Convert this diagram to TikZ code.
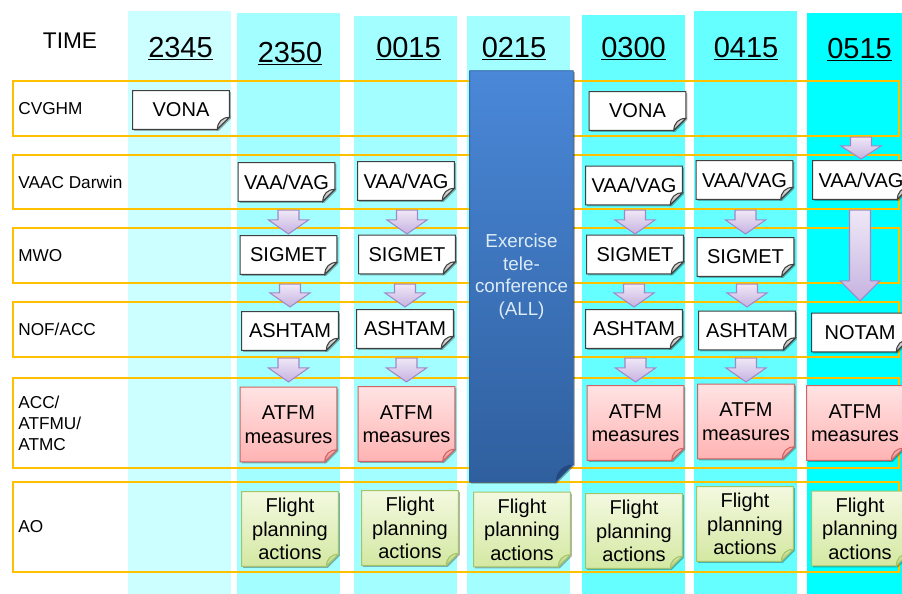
\documentclass[tikz,border=0pt]{standalone}
\usepackage{fontspec}
\setmainfont{Liberation Sans}
\usepackage{xcolor}
\usetikzlibrary{calc,shadows}
\definecolor{colA}{HTML}{CCFFFF}
\definecolor{colB}{HTML}{A3FFFF}
\definecolor{colC}{HTML}{66FFFF}
\definecolor{colD}{HTML}{00FFFF}
\definecolor{frameorange}{HTML}{FFC000}
\definecolor{noteLine}{HTML}{404040}
\definecolor{telTop}{HTML}{4A88D8}
\definecolor{telBot}{HTML}{2F5F9E}
\definecolor{telFlap}{HTML}{24487E}
\definecolor{telText}{HTML}{DDEBF7}
\definecolor{atfmTop}{HTML}{FFE3E3}
\definecolor{atfmBot}{HTML}{FFB3B3}
\definecolor{atfmLine}{HTML}{D06464}
\definecolor{fpaTop}{HTML}{F3F9E0}
\definecolor{fpaBot}{HTML}{D4E8A2}
\definecolor{fpaLine}{HTML}{A5C46A}
\definecolor{arrTop}{HTML}{EFE8F7}
\definecolor{arrBot}{HTML}{C6B2E0}
\definecolor{arrLine}{HTML}{A088C8}
\pgfdeclarelayer{back}
\pgfdeclarelayer{frames}
\pgfdeclarelayer{notes}
\pgfsetlayers{back,frames,notes,main}
\newcommand{\foldnote}[4][0.24cm]{%
  \begin{pgfonlayer}{notes}
    \path[#3] (#2.north west) -- (#2.north east) -- ($(#2.south east)+(0,#1)$)
      -- ($(#2.south east)+(-#1,0)$) -- (#2.south west) -- cycle;
    \path[#4] ($(#2.south east)+(0,#1)$) .. controls ($(#2.south east)+(-0.6*#1,#1)$)
      and ($(#2.south east)+(-#1,0.6*#1)$) .. ($(#2.south east)+(-#1,0)$) -- cycle;
  \end{pgfonlayer}}
\newcommand{\blockarrow}[3][0.28cm]{%
  \path[blockarr] let \p1=#2, \p2=#3 in
    (\x2-0.21cm,\y1) -- (\x2+0.21cm,\y1) -- (\x2+0.21cm,\y2+#1) -- (\x2+0.4cm,\y2+#1)
    -- (\x2,\y2) -- (\x2-0.4cm,\y2+#1) -- (\x2-0.21cm,\y2+#1) -- cycle;}

\begin{document}
\begin{tikzpicture}[x=0.02cm,y=-0.02cm]
  \tikzset{
    hdr/.style={font=\fontsize{16.5}{20}\selectfont,inner sep=0pt,anchor=base},
    rowframe/.style={draw=frameorange,line width=1.2pt,inner sep=0pt,minimum width=17.72cm},
    rowlab/.style={font=\fontsize{9.8}{11.9}\selectfont,align=left,anchor=west,inner sep=0pt},
    note/.style={font=\fontsize{11.4}{13.4}\selectfont,align=center,inner sep=0pt,
                 minimum width=1.92cm,minimum height=0.76cm},
    tall/.style={note,minimum height=1.48cm},
    telbox/.style={font=\fontsize{10.7}{12.9}\selectfont,text=telText,align=center,inner sep=0pt,
                   minimum width=2.06cm,minimum height=8.22cm},
    shade/.style={drop shadow={shadow xshift=0.8pt,shadow yshift=-0.8pt,opacity=0.3,fill=black}},
    plainbody/.style={shade,fill=white,draw=noteLine,line width=0.6pt},
    plainflap/.style={top color=gray!25,bottom color=gray!60,draw=noteLine,line width=0.6pt},
    atfmbody/.style={shade,top color=atfmTop,bottom color=atfmBot,draw=atfmLine,line width=0.6pt},
    atfmflap/.style={top color=atfmBot,bottom color=atfmLine!70,draw=atfmLine,line width=0.6pt},
    fpabody/.style={shade,top color=fpaTop,bottom color=fpaBot,draw=fpaLine,line width=0.6pt},
    fpaflap/.style={top color=fpaBot,bottom color=fpaLine!80,draw=fpaLine,line width=0.6pt},
    telbody/.style={shade,top color=telTop,bottom color=telBot,draw=telBot,line width=0.4pt},
    telflap/.style={fill=telFlap,draw=telBot,line width=0.4pt},
    blockarr/.style={top color=arrTop,bottom color=arrBot,draw=arrLine,line width=0.6pt}}
  \path[use as bounding box] (0,0) rectangle (902,593);
  \begin{pgfonlayer}{back}
    \foreach \xl/\yt/\c in {128/11/colA,237/13/colB,354/16/colB,467/16/colB,582/15/colC,
       694/11/colC,807/13/colD}
      \fill[\c] (\xl,\yt) rectangle ++(103,600);
  \end{pgfonlayer}
  \node[font=\fontsize{12.9}{15}\selectfont,inner sep=0pt,anchor=base] (time) at (70,48) {TIME};
  \foreach \x/\y/\t [count=\i] in {180.5/57/2345,290/62/2350,408.5/57/0015,514/57/0215,
     633.5/57/0300,746/57/0415,859.5/58/0515}
    \node[hdr] (h\i) at (\x,\y) {\underline{\t}};
  \begin{pgfonlayer}{frames}
    \foreach \nm/\yc/\h/\lab in {cvghm/108.5/1.1/CVGHM,vaac/182/1.08/VAAC Darwin,mwo/255.5/1.1/MWO,
       nof/329.5/1.1/{NOF/ACC},acc/423/1.8/{ACC/\\ATFMU/\\ATMC},ao/527/1.8/AO}{
      \node[rowframe,minimum height=\h cm] (\nm) at (456,\yc) {};
      \node[rowlab] (\nm-lab) at ($(\nm.west)+(6,0)$) {\lab};}
  \end{pgfonlayer}
  \node[telbox] (telcon) at (521.5,276.5) {Exercise\\tele-\\conference\\(ALL)};
  \foreach \n/\x/\y in {vona1/181/110,vona5/637.5/111}
    \node[note] (\n) at (\x,\y) {VONA};
  \foreach \n/\x/\y in {vaa2/286.5/182,vaa3/406/181,vaa5/634/185.5,vaa6/744.5/180,vaa7/861/180}
    \node[note] (\n) at (\x,\y) {VAA/VAG};
  \foreach \n/\x/\y in {sig2/288.5/255,sig3/407/254.5,sig5/635/254.5,sig6/745.5/257}
    \node[note] (\n) at (\x,\y) {SIGMET};
  \foreach \n/\x/\y in {ash2/290/331,ash3/405/329,ash5/634/329,ash6/747/330.5}
    \node[note] (\n) at (\x,\y) {ASHTAM};
  \node[note] (notam7) at (860,332.5) {NOTAM};
  \foreach \n/\x/\y in {atfm2/288.5/424.5,atfm3/406.5/424,atfm5/635.5/423,atfm6/746/421.5,atfm7/855/423}
    \node[tall] (\n) at (\x,\y) {ATFM\\measures};
  \foreach \n/\x/\y in {fpa2/290/529,fpa3/410/528,fpa4/522/529.5,fpa5/634/531,fpa6/745/524,fpa7/860/528.5}
    \node[tall] (\n) at (\x,\y) {Flight\\planning\\actions};
  \foreach \n in {vona1,vona5,vaa2,vaa3,vaa5,vaa6,vaa7,sig2,sig3,sig5,sig6,ash2,ash3,ash5,ash6,notam7}
    \foldnote{\n}{plainbody}{plainflap};
  \foreach \n in {atfm2,atfm3,atfm5,atfm6,atfm7}
    \foldnote{\n}{atfmbody}{atfmflap};
  \foreach \n in {fpa2,fpa3,fpa4,fpa5,fpa6,fpa7}
    \foldnote{\n}{fpabody}{fpaflap};
  \foldnote[0.36cm]{telcon}{telbody}{telflap};
  \foreach \c in {2,3,5,6}{
    \blockarrow{(vaac.south -| sig\c)}{($(mwo.north -| sig\c)+(0,7)$)}
    \blockarrow{(mwo.south -| ash\c)}{($(nof.north -| ash\c)+(0,6)$)}
    \blockarrow{(nof.south -| atfm\c)}{($(acc.north -| atfm\c)+(0,5)$)}}
  \blockarrow[0.26cm]{(cvghm.south -| vaa7)}{($(vaac.north -| vaa7)+(0,5)$)}
  \blockarrow[0.4cm]{(vaac.south -| notam7)}{(nof.north -| notam7)}
\end{tikzpicture}
\end{document}
